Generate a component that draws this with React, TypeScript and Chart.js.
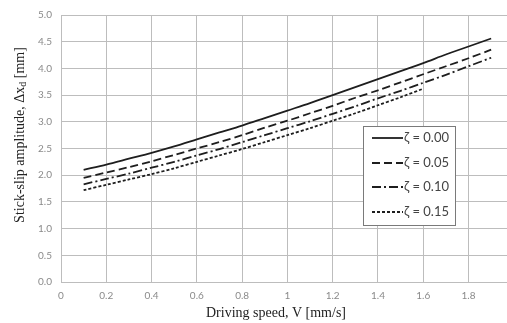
import React, { useEffect, useRef } from "react";
import { Chart, registerables } from "chart.js";

Chart.register(...registerables);

const speeds = [0.1, 0.2, 0.3, 0.4, 0.5, 0.6, 0.7, 0.8, 0.9, 1.0, 1.1, 1.2, 1.3, 1.4, 1.5, 1.6, 1.7, 1.8, 1.9];
const zeta000 = [2.10, 2.20, 2.31, 2.42, 2.54, 2.67, 2.80, 2.93, 3.07, 3.21, 3.35, 3.50, 3.65, 3.80, 3.95, 4.10, 4.26, 4.41, 4.56];
const zeta005 = [1.95, 2.05, 2.15, 2.26, 2.38, 2.50, 2.62, 2.75, 2.89, 3.02, 3.16, 3.30, 3.45, 3.59, 3.74, 3.89, 4.04, 4.19, 4.35];
const zeta010 = [1.83, 1.93, 2.03, 2.14, 2.25, 2.37, 2.49, 2.62, 2.75, 2.88, 3.01, 3.15, 3.29, 3.44, 3.58, 3.73, 3.88, 4.04, 4.20];
const zeta015 = [1.72, 1.82, 1.92, 2.02, 2.13, 2.25, 2.37, 2.49, 2.62, 2.75, 2.88, 3.02, 3.16, 3.31, 3.46, 3.62];
const seriesLabels = ["ζ = 0.00", "ζ = 0.05", "ζ = 0.10", "ζ = 0.15"];
const xTickValues = [0, 0.2, 0.4, 0.6, 0.8, 1.0, 1.2, 1.4, 1.6, 1.8];
const xTitle = "Driving speed, V [mm/s]";

const dashes: number[][] = [[], [8, 4], [9, 3, 2, 3], [3, 2]];

export default function App() {
  const ref = useRef<HTMLCanvasElement>(null);
  useEffect(() => {
    document.body.style.margin = "0";
    const all = [zeta000, zeta005, zeta010, zeta015];
    const datasets = all.map((vals, i) => ({
      label: seriesLabels[i],
      data: vals.map((v, j) => ({ x: speeds[j], y: v })),
      borderColor: "#1e1e1e",
      borderWidth: 1.8,
      borderDash: dashes[i],
      pointRadius: 0,
      fill: false,
      tension: 0.3,
    }));

    const overlay = {
      id: "overlay",
      afterDraw(chart: any) {
        const ctx = chart.ctx as CanvasRenderingContext2D;
        ctx.save();
        ctx.fillStyle = "#222";
        ctx.translate(20, 135);
        ctx.rotate(-Math.PI / 2);
        const big = "14px 'Liberation Serif'";
        const small = "10px 'Liberation Serif'";
        const p1 = "Stick-slip amplitude, Δx";
        const p2 = "d";
        const p3 = " [mm]";
        ctx.font = big;
        const w1 = ctx.measureText(p1).width;
        const w3 = ctx.measureText(p3).width;
        ctx.font = small;
        const w2 = ctx.measureText(p2).width;
        const total = w1 + w2 + w3;
        let x0 = -total / 2;
        ctx.textBaseline = "middle";
        ctx.textAlign = "left";
        ctx.font = big;
        ctx.fillText(p1, x0, 0);
        x0 += w1;
        ctx.font = small;
        ctx.fillText(p2, x0, 3);
        x0 += w2;
        ctx.font = big;
        ctx.fillText(p3, x0, 0);
        ctx.restore();

        ctx.save();
        ctx.fillStyle = "#222";
        ctx.font = big;
        ctx.textAlign = "center";
        ctx.textBaseline = "middle";
        ctx.fillText(xTitle, 276, 313);
        ctx.restore();

        ctx.save();
        const bx = 363, by = 126, bw = 92, bh = 99;
        ctx.fillStyle = "#ffffff";
        ctx.fillRect(bx, by, bw, bh);
        ctx.strokeStyle = "#7a7a7a";
        ctx.lineWidth = 1;
        ctx.strokeRect(bx + 0.5, by + 0.5, bw, bh);
        const rows = [138, 163, 187, 212];
        ctx.font = "13px Lato";
        ctx.textBaseline = "middle";
        ctx.textAlign = "left";
        rows.forEach((ry, i) => {
          ctx.strokeStyle = "#1e1e1e";
          ctx.lineWidth = 1.8;
          ctx.setLineDash(dashes[i]);
          ctx.beginPath();
          ctx.moveTo(372, ry);
          ctx.lineTo(403, ry);
          ctx.stroke();
          ctx.setLineDash([]);
          ctx.fillStyle = "#444";
          ctx.fillText(seriesLabels[i], 404, ry);
        });
        ctx.restore();
      },
    };

    const chart = new Chart(ref.current!, {
      type: "line",
      data: { datasets },
      options: {
        animation: false,
        responsive: false,
        maintainAspectRatio: false,
        layout: { padding: { top: 14, right: 0, left: 0, bottom: 0 } },
        plugins: { legend: { display: false }, tooltip: { enabled: false } },
        scales: {
          x: {
            type: "linear",
            min: 0,
            max: 1.97,
            afterBuildTicks: (s: any) => {
              s.ticks = xTickValues.map((v) => ({ value: v }));
            },
            afterFit: (s: any) => {
              s.height = 41;
            },
            grid: { color: "#bdbdbd", lineWidth: 1, drawTicks: false },
            border: { display: false },
            ticks: {
              padding: 8,
              color: "#8a8a8a",
              font: { family: "Lato", size: 10 },
              maxRotation: 0,
              callback: (v: any) => {
                const n = Number(v);
                if (n === 0) return "0";
                if (Math.abs(n - 1) < 1e-9) return "1";
                return n.toFixed(1);
              },
            },
          },
          y: {
            type: "linear",
            min: 0,
            max: 5,
            afterFit: (s: any) => {
              s.width = 61;
            },
            grid: { color: "#bdbdbd", lineWidth: 1, drawTicks: false },
            border: { display: false },
            ticks: {
              stepSize: 0.5,
              padding: 9,
              color: "#8a8a8a",
              font: { family: "Lato", size: 10 },
              callback: (v: any) => Number(v).toFixed(1),
            },
          },
        },
      },
      plugins: [overlay],
    });
    return () => chart.destroy();
  }, []);
  return (
    <div style={{ width: 507, height: 323 }}>
      <canvas ref={ref} width={507} height={323} style={{ display: "block" }} />
    </div>
  );
}
